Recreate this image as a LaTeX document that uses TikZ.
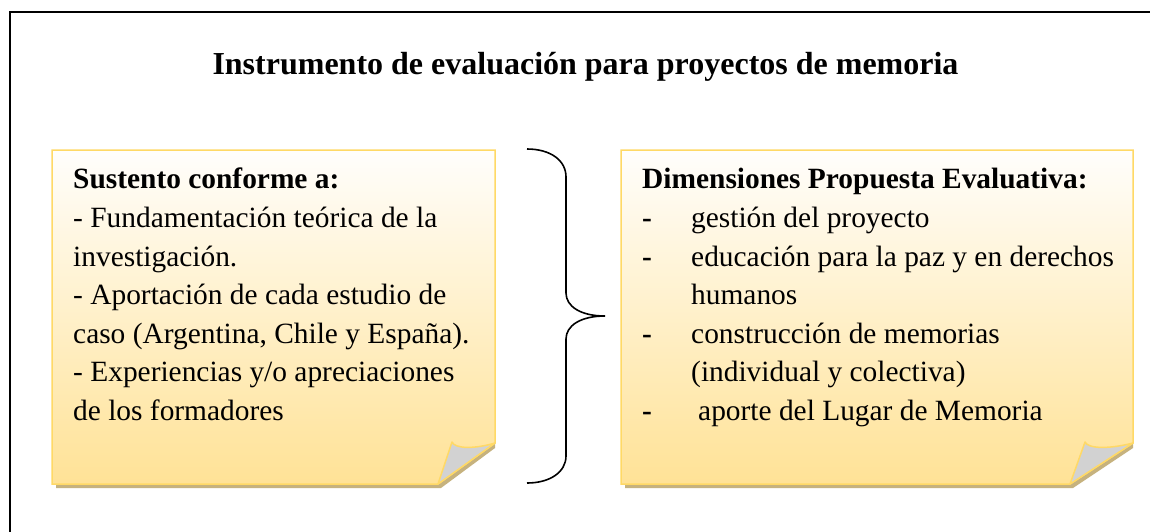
\documentclass[tikz,border=0pt]{standalone}
\usepackage{fontspec}
\setmainfont{Liberation Serif}
\definecolor{noteborder}{HTML}{FFD966}
\definecolor{notetop}{HTML}{FFFEFC}
\definecolor{notebot}{HTML}{FFE296}
\definecolor{noteshadow}{HTML}{C6B27E}
\definecolor{foldgray}{HTML}{D2D2D2}
\tikzset{
  x=1pt, y=-1pt,
  frameline/.style={draw=black, line width=2pt},
  bracestyle/.style={draw=black, line width=1.6pt},
  notebody/.style={draw=noteborder, line width=1.5pt, top color=notetop, bottom color=notebot},
  noteshade/.style={fill=noteshadow},
  notefold/.style={fill=foldgray, draw=noteborder, line width=1.5pt, line join=round},
  ttl/.style={anchor=base, inner sep=0pt, font=\fontsize{32}{38}\selectfont\bfseries},
  txt/.style={anchor=base west, inner sep=0pt, font=\fontsize{29.4}{38}\selectfont},
  hd/.style={txt, font=\fontsize{29.4}{38}\selectfont\bfseries},
}
\begin{document}
\begin{tikzpicture}
\clip (0,0) rectangle (1150,531);
\fill[white] (0,0) rectangle (1150,531);
% outer frame (right and bottom edges fall outside the page)
\path[frameline] (10,12) rectangle (1170,560);
% title
\node[ttl] (title) at (585.5,74) {Instrumento de evaluación para proyectos de memoria};

% left note
\fill[noteshade] (56,481) -- (438,481) -- (495,440) -- (495,448) -- (441,488) -- (56,488) -- cycle;
\path[notebody] (52,150) -- (495,150) -- (495,443) -- (438,484) -- (52,484) -- cycle;
\path[notefold] (452,442) .. controls (455,449) and (475,449) .. (495,443) -- (438,484) -- cycle;

% right note
\fill[noteshade] (625,481) -- (1070,481) -- (1133,440) -- (1133,448) -- (1073,488) -- (625,488) -- cycle;
\path[notebody] (621,150) -- (1133,150) -- (1133,443) -- (1070,484) -- (621,484) -- cycle;
\path[notefold] (1085,442) .. controls (1088,449) and (1110,449) .. (1133,443) -- (1070,484) -- cycle;

% brace
\coordinate (bt) at (527,149);
\coordinate (bm) at (605,316);
\coordinate (bb) at (527,483);
\path[bracestyle] (bt) .. controls (550,149) and (566,160) .. (566,177) -- (566,293)
  .. controls (566,306) and (580,316) .. (bm)
  .. controls (580,316) and (566,326) .. (566,339) -- (566,456)
  .. controls (566,472) and (550,483) .. (bb);

% left text
\node[hd]  (l1) at (73,188) {Sustento conforme a:};
\node[txt] (l2) at (73,227) {- Fundamentación teórica de la};
\node[txt] (l3) at (73,266) {investigación.};
\node[txt] (l4) at (73,304) {- Aportación de cada estudio de};
\node[txt] (l5) at (73,343) {caso (Argentina, Chile y España).};
\node[txt] (l6) at (73,381) {- Experiencias y/o apreciaciones};
\node[txt] (l7) at (73,420) {de los formadores};

% right text
\node[hd]  (r1) at (642,188) {Dimensiones Propuesta Evaluativa:};
\node[hd]  (d1) at (642,227) {-};
\node[txt] (r2) at (691,227) {gestión del proyecto};
\node[hd]  (d2) at (642,266) {-};
\node[txt] (r3) at (691,266) {educación para la paz y en derechos};
\node[txt] (r4) at (691,304) {humanos};
\node[hd]  (d3) at (642,343) {-};
\node[txt] (r5) at (691,343) {construcción de memorias};
\node[txt] (r6) at (691,381) {(individual y colectiva)};
\node[hd]  (d4) at (642,420) {-};
\node[txt] (r7) at (698,420) {aporte del Lugar de Memoria};
\end{tikzpicture}
\end{document}
